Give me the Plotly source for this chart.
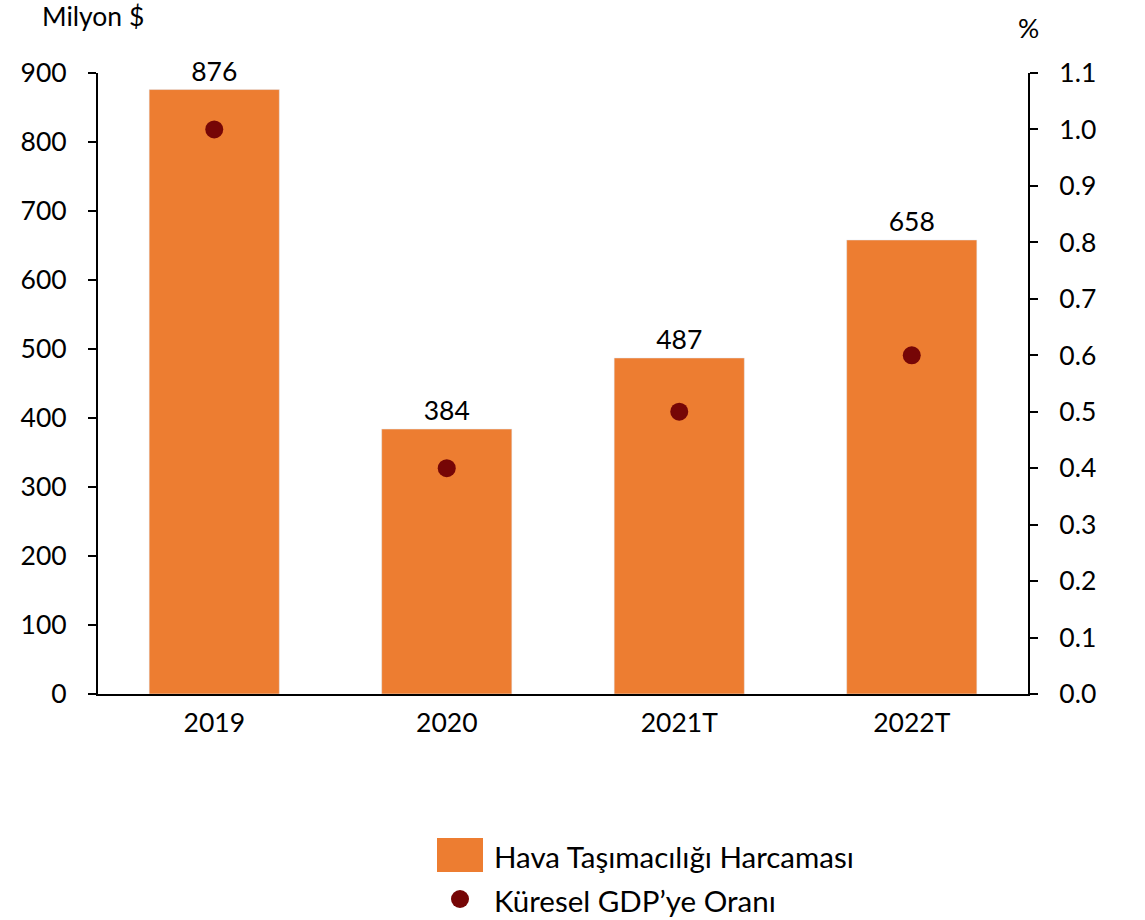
import plotly.graph_objects as go

categories = ["2019", "2020", "2021T", "2022T"]
spending = [876, 384, 487, 658]
gdp_share = [1.0, 0.4, 0.5, 0.6]
left_ticks = list(range(0, 1000, 100))
right_ticks = [round(i * 0.1, 1) for i in range(12)]

bar_name = "Hava Taşımacılığı Harcaması"
dot_name = "Küresel GDP’ye Oranı"

BAR_COLOR = "#ED7D31"
DOT_COLOR = "#760606"
FONT = "Lato"
FS = 26.5

fig = go.Figure()
fig.add_trace(go.Bar(
    x=categories, y=spending, marker_color=BAR_COLOR, name=bar_name,
    text=[str(v) for v in spending], textposition="outside",
    textfont=dict(size=FS, color="black", family=FONT),
    cliponaxis=False, showlegend=False,
))
fig.add_trace(go.Scatter(
    x=categories, y=gdp_share, yaxis="y2", mode="markers", name=dot_name,
    marker=dict(size=18, color=DOT_COLOR), showlegend=False,
))

fig.update_layout(
    width=1145, height=920,
    margin=dict(l=98, r=117, t=73, b=226),
    paper_bgcolor="white", plot_bgcolor="white",
    font=dict(family=FONT, size=FS, color="black"),
    bargap=0.44,
    xaxis=dict(showline=True, linecolor="black", linewidth=2, ticks="",
               tickfont=dict(size=FS), showgrid=False, ticklabelstandoff=4),
    yaxis=dict(range=[0, 900], tickvals=left_ticks, showline=True, linecolor="black",
               linewidth=2, ticks="outside", ticklen=8, tickwidth=2, tickcolor="black",
               showgrid=False, zeroline=False, ticklabelstandoff=16),
    yaxis2=dict(range=[0, 1.1], tickvals=right_ticks, tickformat=".1f", overlaying="y",
                side="right", showline=True, linecolor="black", linewidth=2,
                ticks="outside", ticklen=8, tickwidth=2, tickcolor="black",
                showgrid=False, zeroline=False, ticklabelstandoff=16),
)

# axis unit labels
fig.add_annotation(text="Milyon $", xref="paper", yref="paper", x=(40 - 98) / 930, y=1.0,
                   yshift=57, xanchor="left", yanchor="middle", showarrow=False,
                   font=dict(size=FS))
fig.add_annotation(text="%", xref="paper", yref="paper", x=1.0, y=1.0,
                   yshift=45, xanchor="center", yanchor="middle", showarrow=False,
                   font=dict(size=FS))

# legend (drawn manually to match the large swatch)
fig.add_shape(type="rect", xref="paper", yref="paper",
              x0=(437 - 98) / 930, x1=(483 - 98) / 930,
              y0=(694 - 872) / 621, y1=(694 - 838) / 621,
              fillcolor=BAR_COLOR, line=dict(width=0))
fig.add_shape(type="circle", xref="paper", yref="paper",
              x0=(451 - 98) / 930, x1=(469 - 98) / 930,
              y0=(694 - 908) / 621, y1=(694 - 890) / 621,
              fillcolor=DOT_COLOR, line=dict(width=0))
fig.add_annotation(text=bar_name, xref="paper", yref="paper", x=(492 - 98) / 930,
                   y=(694 - 856) / 621, xanchor="left", yanchor="middle",
                   showarrow=False, font=dict(size=29.5))
fig.add_annotation(text=dot_name, xref="paper", yref="paper", x=(492 - 98) / 930,
                   y=(694 - 900) / 621, xanchor="left", yanchor="middle",
                   showarrow=False, font=dict(size=29.5))

fig.write_html("out.html", config={"displayModeBar": False},
               post_script="document.body.style.margin='0';document.body.style.overflow='hidden';")
